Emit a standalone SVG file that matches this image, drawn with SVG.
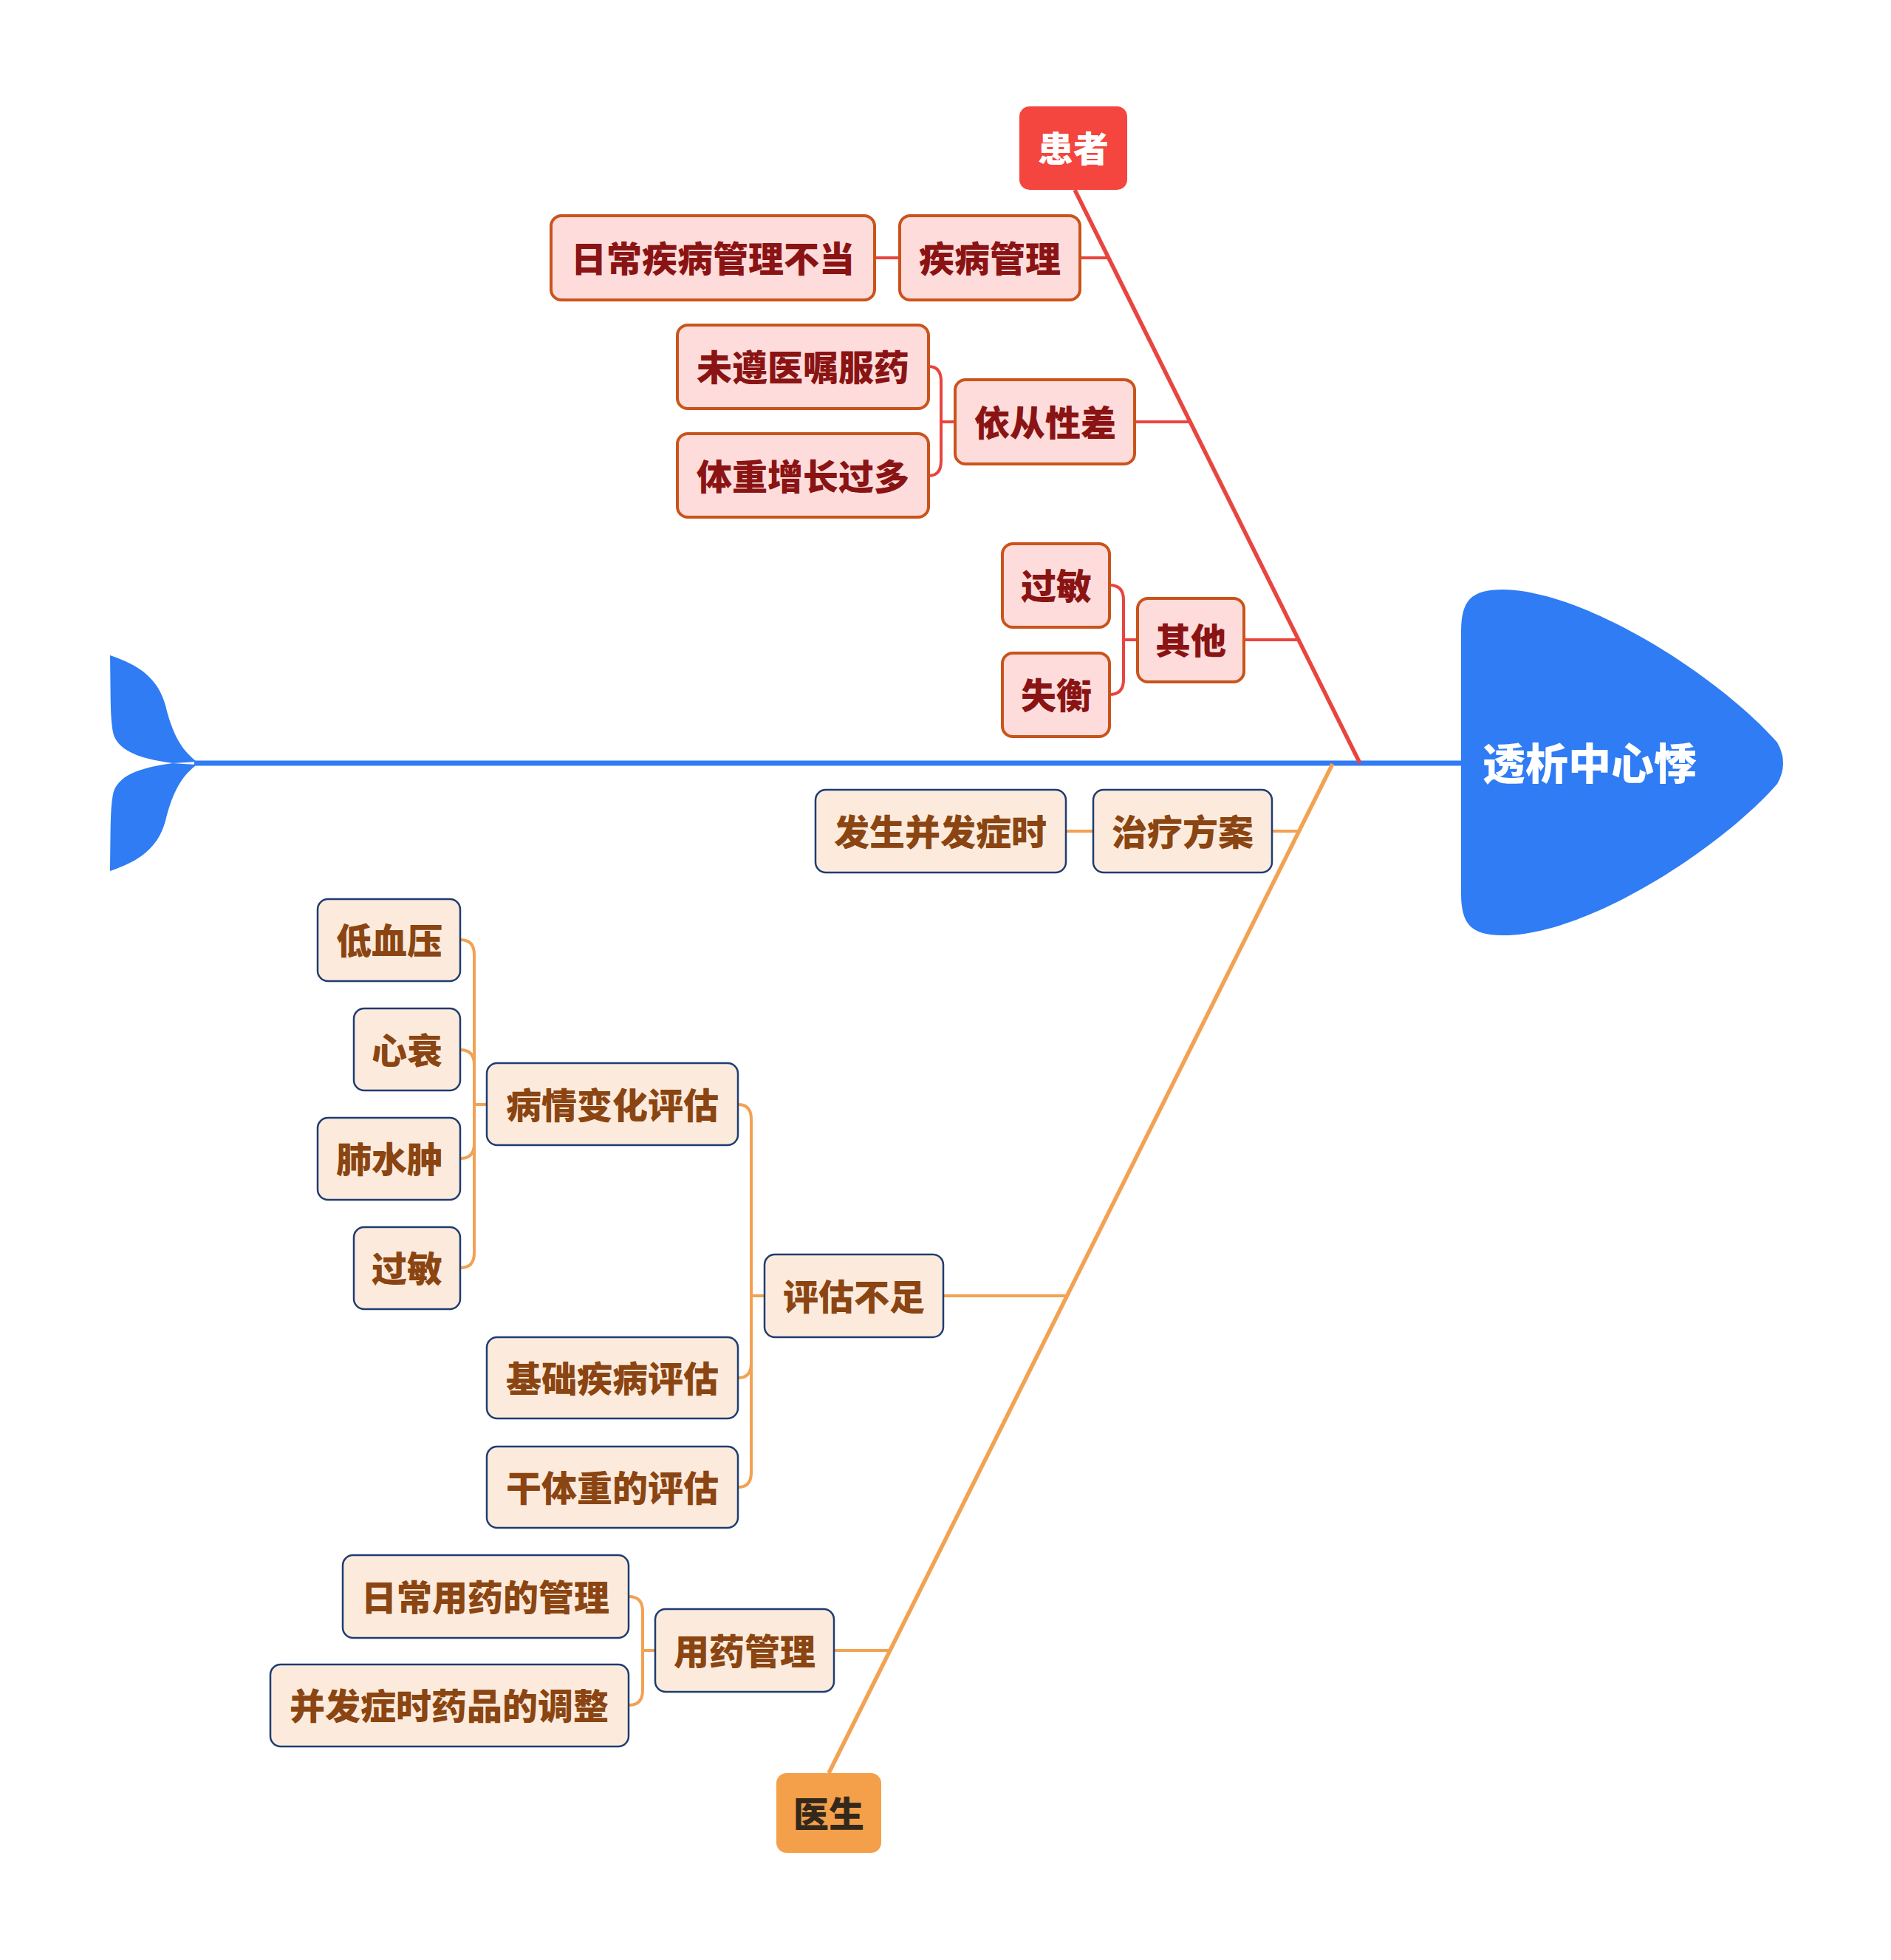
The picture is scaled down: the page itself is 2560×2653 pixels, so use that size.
<svg xmlns="http://www.w3.org/2000/svg" width="2560" height="2653" viewBox="0 0 2560 2653">
<style>
text{font-family:"Noto Sans CJK SC","Noto Sans",sans-serif;font-weight:900;text-anchor:middle;dominant-baseline:central}
.pb{fill:#fddcdb;stroke:#c9541b;stroke-width:4}
.pt{fill:#8a1414;font-size:48px}
.db{fill:#fcebdc;stroke:#1f3c72;stroke-width:2.5}
.dt{fill:#8a4512;font-size:48px}
.rc{fill:none;stroke:#e8453f;stroke-width:4}
.oc{fill:none;stroke:#f2a253;stroke-width:4}
</style>
<rect width="2560" height="2653" fill="#ffffff"/>
<g id="connectors">
  <path d="M263 1033 H1978" stroke="#2f7cf4" stroke-width="7" fill="none"/>
  <path d="M1455 257 L1841 1033" stroke="#e8453f" stroke-width="5.5" fill="none"/>
  <path d="M1804 1034 L1122 2400" stroke="#f2a253" stroke-width="5.5" fill="none"/>
  <path class="rc" d="M1184 349 H1218"/>
  <path class="rc" d="M1462 349 H1500"/>
  <path class="rc" d="M1293 571 H1274 V516 Q1274 496 1257 496"/>
  <path class="rc" d="M1293 571 H1274 V624 Q1274 644 1257 644"/>
  <path class="rc" d="M1536 571 H1611"/>
  <path class="rc" d="M1540 866 H1521 V812 Q1521 792 1502 792"/>
  <path class="rc" d="M1540 866 H1521 V920 Q1521 940 1502 940"/>
  <path class="rc" d="M1684 866 H1758"/>
  <path class="oc" d="M1443 1125 H1480"/>
  <path class="oc" d="M1722 1125 H1759"/>
  <path class="oc" d="M659 1495 H642 V1292 Q642 1272 623 1272"/>
  <path class="oc" d="M659 1495 H642 V1441 Q642 1421 623 1421"/>
  <path class="oc" d="M659 1495 H642 V1548 Q642 1568 623 1568"/>
  <path class="oc" d="M659 1495 H642 V1696 Q642 1716 623 1716"/>
  <path class="oc" d="M1035 1754 H1017 V1515 Q1017 1495 999 1495"/>
  <path class="oc" d="M1035 1754 H1017 V1845 Q1017 1865 999 1865"/>
  <path class="oc" d="M1035 1754 H1017 V1993 Q1017 2013 999 2013"/>
  <path class="oc" d="M1277 1754 H1445"/>
  <path class="oc" d="M887 2234 H870 V2181 Q870 2161 851 2161"/>
  <path class="oc" d="M887 2234 H870 V2288 Q870 2308 851 2308"/>
  <path class="oc" d="M1129 2234 H1205"/>
</g>
<g id="tail">
  <path fill="#2f7cf4" d="M149 887 C188 900 214 918 224 955 C234 995 246 1015 266 1031 L234 1033 C198 1028 163 1020 154 995 C149 975 150 950 149 887 Z"/>
  <path fill="#2f7cf4" d="M149 1179 C188 1166 214 1148 224 1111 C234 1071 246 1051 266 1035 L234 1033 C198 1038 163 1046 154 1071 C149 1091 150 1116 149 1179 Z"/>
</g>
<g id="head">
  <path fill="#2f7cf4" d="M1978 855 C1978 812 1992 798 2035 798 C2150 800 2332 920 2406 1005 Q2422 1033 2406 1061 C2332 1146 2150 1266 2035 1266 C1992 1266 1978 1252 1978 1209 Z"/>
  <text x="2152" y="1030" fill="#ffffff" font-size="58">透析中心悸</text>
</g>
<g id="patient">
  <rect x="1380" y="144" width="146" height="113" rx="14" fill="#f4453e"/>
  <text x="1453" y="198" fill="#ffffff" font-size="48">患者</text>
</g>
<g id="n-rcjbglbd"><rect class="pb" x="746" y="292" width="438" height="114" rx="14"/><text class="pt" x="965" y="347">日常疾病管理不当</text></g>
<g id="n-jbgl"><rect class="pb" x="1218" y="292" width="244" height="114" rx="14"/><text class="pt" x="1340" y="347">疾病管理</text></g>
<g id="n-wzyzfy"><rect class="pb" x="917" y="440" width="340" height="113" rx="14"/><text class="pt" x="1087" y="494">未遵医嘱服药</text></g>
<g id="n-tzzzgd"><rect class="pb" x="917" y="587" width="340" height="113" rx="14"/><text class="pt" x="1087" y="642">体重增长过多</text></g>
<g id="n-ycxc"><rect class="pb" x="1293" y="514" width="243" height="114" rx="14"/><text class="pt" x="1415" y="569">依从性差</text></g>
<g id="n-gm1"><rect class="pb" x="1357" y="736" width="145" height="113" rx="14"/><text class="pt" x="1430" y="790">过敏</text></g>
<g id="n-sh"><rect class="pb" x="1357" y="884" width="145" height="113" rx="14"/><text class="pt" x="1430" y="938">失衡</text></g>
<g id="n-qt"><rect class="pb" x="1540" y="810" width="144" height="113" rx="14"/><text class="pt" x="1612" y="864">其他</text></g>
<g id="doctor">
  <rect x="1051" y="2400" width="142" height="108" rx="14" fill="#f4a04a"/>
  <text x="1122" y="2452" fill="#33281c" font-size="48">医生</text>
</g>
<g id="n-fsbfzs"><rect class="db" x="1104" y="1069" width="339" height="112" rx="14"/><text class="dt" x="1273" y="1123">发生并发症时</text></g>
<g id="n-zlfa"><rect class="db" x="1480" y="1069" width="242" height="112" rx="14"/><text class="dt" x="1601" y="1123">治疗方案</text></g>
<g id="n-dxy"><rect class="db" x="430" y="1217" width="193" height="111" rx="14"/><text class="dt" x="527" y="1270">低血压</text></g>
<g id="n-xs"><rect class="db" x="479" y="1365" width="144" height="111" rx="14"/><text class="dt" x="551" y="1419">心衰</text></g>
<g id="n-fsz"><rect class="db" x="430" y="1513" width="193" height="111" rx="14"/><text class="dt" x="527" y="1566">肺水肿</text></g>
<g id="n-gm2"><rect class="db" x="479" y="1661" width="144" height="111" rx="14"/><text class="dt" x="551" y="1714">过敏</text></g>
<g id="n-bqbhpg"><rect class="db" x="659" y="1439" width="340" height="111" rx="14"/><text class="dt" x="829" y="1493">病情变化评估</text></g>
<g id="n-jcjbpg"><rect class="db" x="659" y="1810" width="340" height="110" rx="14"/><text class="dt" x="829" y="1863">基础疾病评估</text></g>
<g id="n-gtzdpg"><rect class="db" x="659" y="1958" width="340" height="110" rx="14"/><text class="dt" x="829" y="2011">干体重的评估</text></g>
<g id="n-pgbz"><rect class="db" x="1035" y="1698" width="242" height="112" rx="14"/><text class="dt" x="1156" y="1752">评估不足</text></g>
<g id="n-rcyydgl"><rect class="db" x="464" y="2105" width="387" height="112" rx="14"/><text class="dt" x="657" y="2159">日常用药的管理</text></g>
<g id="n-bfzsypdtz"><rect class="db" x="366" y="2253" width="485" height="111" rx="14"/><text class="dt" x="608" y="2306">并发症时药品的调整</text></g>
<g id="n-yygl"><rect class="db" x="887" y="2178" width="242" height="112" rx="14"/><text class="dt" x="1008" y="2232">用药管理</text></g>
</svg>
